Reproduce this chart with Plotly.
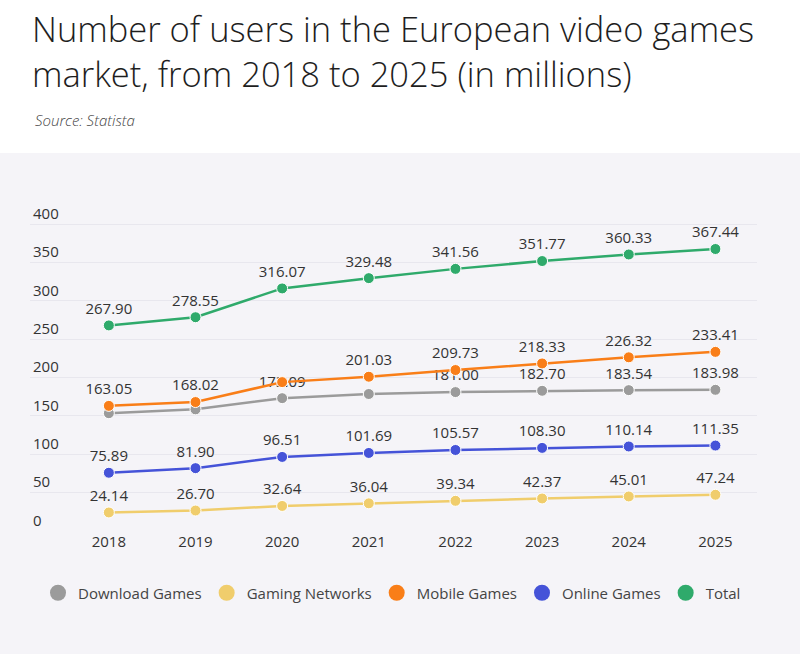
import plotly.graph_objects as go

years = ["2018", "2019", "2020", "2021", "2022", "2023", "2024", "2025"]

download_games = [153.5, 158.5, 173.09, 178.5, 181.00, 182.70, 183.54, 183.98]
gaming_networks = [24.14, 26.70, 32.64, 36.04, 39.34, 42.37, 45.01, 47.24]
mobile_games = [163.05, 168.02, 194.0, 201.03, 209.73, 218.33, 226.32, 233.41]
online_games = [75.89, 81.90, 96.51, 101.69, 105.57, 108.30, 110.14, 111.35]
total = [267.90, 278.55, 316.07, 329.48, 341.56, 351.77, 360.33, 367.44]

# which value labels are visible in the reference (others hidden by overlap)
download_show = [False, False, True, False, True, True, True, True]
mobile_show = [True, True, False, True, True, True, True, True]
all_show = [True] * 8

series = [
    ("Download Games", download_games, "#9b9b9b", download_show),
    ("Gaming Networks", gaming_networks, "#f0cd6c", all_show),
    ("Mobile Games", mobile_games, "#f97e18", mobile_show),
    ("Online Games", online_games, "#4553d8", all_show),
    ("Total", total, "#2faa6b", all_show),
]

FONT = "Open Sans, DejaVu Sans, sans-serif"
BG = "#f5f4f8"
T, B, L, R = 200, 123, 30, 43
PH = 654 - T - B
PW = 800 - L - R


def py(px):
    return 1 + (T - px) / PH


def pxr(px):
    return (px - L) / PW


fig = go.Figure()
for name, vals, color, show in series:
    fig.add_trace(go.Scatter(
        x=years, y=vals, name=name, mode="lines+markers+text",
        line=dict(color=color, width=2.5),
        marker=dict(color=color, size=11, line=dict(color="white", width=1)),
        text=[f"{v:.2f}" if s else "" for v, s in zip(vals, show)],
        textposition="top center",
        textfont=dict(family=FONT, size=15, color="#333333"),
        showlegend=False, cliponaxis=False,
    ))
for name, vals, color, show in series:
    fig.add_trace(go.Scatter(
        x=[None], y=[None], name=name, mode="markers",
        marker=dict(color=color, size=16),
    ))

fig.update_layout(
    width=800, height=654,
    paper_bgcolor=BG, plot_bgcolor=BG,
    margin=dict(l=L, r=R, t=T, b=B),
    font=dict(family=FONT, color="#333333"),
    xaxis=dict(
        type="category", range=[-0.91, 7.48],
        showgrid=False, zeroline=False, showline=False, ticks="",
        tickfont=dict(size=15, color="#333333"),
    ),
    yaxis=dict(
        range=[0, 431.3], tickvals=[0, 50, 100, 150, 200, 250, 300, 350, 400],
        ticklabelposition="inside top", showline=False, ticks="",
        gridcolor="#e8e7ee", gridwidth=1, zeroline=False,
        tickfont=dict(size=15, color="#333333"),
    ),
    legend=dict(
        orientation="h", xref="container", yref="container",
        x=0.49, xanchor="center", y=1 - 593 / 654, yanchor="middle",
        font=dict(size=15, color="#444444"), itemwidth=30,
        bgcolor="rgba(0,0,0,0)",
    ),
    shapes=[dict(
        type="rect", xref="paper", yref="paper", layer="below",
        x0=-1, x1=2, y0=py(153), y1=3,
        fillcolor="white", line=dict(width=0),
    )],
    annotations=[
        dict(
            text="Number of users in the European video games<br>market, from 2018 to 2025 (in millions)",
            xref="paper", yref="paper", x=pxr(30), y=py(3),
            xanchor="left", yanchor="top", align="left", showarrow=False,
            font=dict(family=FONT, size=34.5, color="#1e1e1e", weight=300),
        ),
        dict(
            text="<i>Source: Statista</i>", xref="paper", yref="paper",
            x=pxr(33), y=py(120), xanchor="left", yanchor="middle",
            showarrow=False, font=dict(family=FONT, size=15, color="#444444", weight=300),
        ),
    ],
)

fig.write_html(
    "out.html",
    config={"displayModeBar": False},
    post_script="document.body.style.margin='0';document.body.style.padding='0';",
)
